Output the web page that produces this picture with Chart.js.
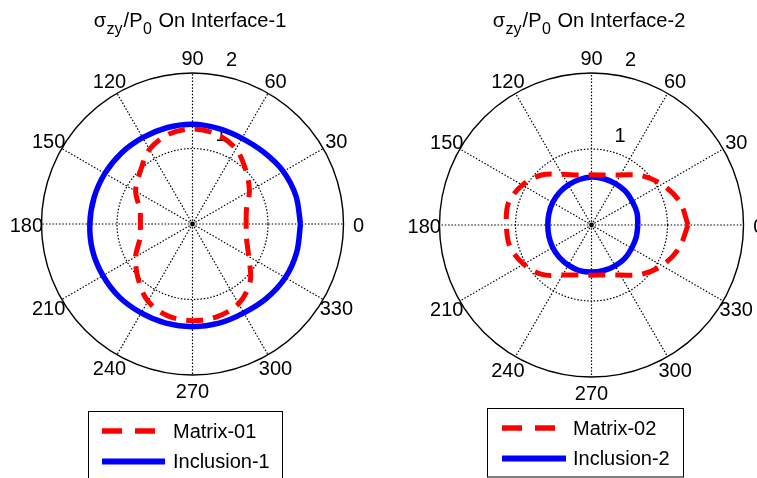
<!DOCTYPE html>
<html>
<head>
<meta charset="utf-8">
<script src="https://cdn.jsdelivr.net/npm/chart.js@4/dist/chart.umd.min.js"></script>
<style>
  html, body { margin: 0; padding: 0; background: #fff; }
  #wrap { position: relative; width: 757px; height: 478px; overflow: hidden; }
  canvas { position: absolute; top: 0; }
</style>
</head>
<body>
<div id="wrap">
  <canvas id="polar1" width="379" height="478" style="left:0"></canvas>
  <canvas id="polar2" width="378" height="478" style="left:379px"></canvas>
</div>
<script>
const angleDeg = [0, 15, 30, 45, 60, 75, 90, 105, 120, 135, 150, 165,
                  180, 195, 210, 225, 240, 255, 270, 285, 300, 315, 330, 345];

// Interface-1, sigma_zy / P0
const matrix01   = [0.71, 0.74, 0.87, 1.00, 1.15, 1.23, 1.26, 1.23, 1.14, 0.98, 0.87, 0.72,
                    0.69, 0.72, 0.87, 1.02, 1.18, 1.26, 1.28, 1.27, 1.22, 1.08, 0.86, 0.74];
const inclusion1 = [1.43, 1.42, 1.39, 1.34, 1.31, 1.31, 1.32, 1.32, 1.32, 1.33, 1.34, 1.35,
                    1.36, 1.37, 1.37, 1.37, 1.36, 1.36, 1.36, 1.36, 1.36, 1.39, 1.42, 1.43];

// Interface-2, sigma_zy / P0
const matrix02   = [1.27, 1.20, 1.07, 0.92, 0.76, 0.68, 0.66, 0.68, 0.77, 0.93, 1.05, 1.13,
                    1.12, 1.11, 1.03, 0.92, 0.76, 0.68, 0.66, 0.68, 0.76, 0.92, 1.07, 1.19];
const inclusion2 = [0.61, 0.62, 0.62, 0.63, 0.63, 0.63, 0.63, 0.62, 0.61, 0.60, 0.59, 0.58,
                    0.575, 0.58, 0.59, 0.60, 0.61, 0.62, 0.62, 0.62, 0.62, 0.62, 0.61, 0.61];

// Axis ticks
const spokeAngles = [0, 30, 60, 90, 120, 150, 180, 210, 240, 270, 300, 330];
const ringValues = [1, 2];
const rMax = 2;

const FONT = "'Liberation Sans', Arial, Helvetica, sans-serif";

function polarToXY(radii) {
  const pts = radii.map((r, i) => {
    const a = angleDeg[i] * Math.PI / 180;
    return { x: r * Math.cos(a), y: r * Math.sin(a) };
  });
  pts.push({ ...pts[0] }); // close the loop
  return pts;
}

// Draws the MATLAB-like polar frame, title and boxed legend
const polarFrame = {
  id: 'polarFrame',
  beforeDatasetsDraw(chart, args, opts) {
    const ctx = chart.ctx;
    const xs = chart.scales.x, ys = chart.scales.y;
    const cx = xs.getPixelForValue(0), cy = ys.getPixelForValue(0);
    const pxPerUnit = xs.getPixelForValue(1) - cx;
    const R = rMax * pxPerUnit;

    ctx.save();
    ctx.strokeStyle = '#000';
    ctx.lineWidth = 1.2;

    // dotted spokes
    ctx.setLineDash([1.5, 1.8]);
    spokeAngles.forEach(deg => {
      const a = deg * Math.PI / 180;
      ctx.beginPath();
      ctx.moveTo(cx, cy);
      ctx.lineTo(cx + R * Math.cos(a), cy - R * Math.sin(a));
      ctx.stroke();
    });

    // dotted inner rings, solid outer ring
    ringValues.forEach(v => {
      ctx.beginPath();
      ctx.setLineDash(v === rMax ? [] : [1.5, 1.8]);
      ctx.lineWidth = v === rMax ? 1.4 : 1.2;
      ctx.arc(cx, cy, v * pxPerUnit, 0, Math.PI * 2);
      ctx.stroke();
    });

    // centre dot
    ctx.setLineDash([]);
    ctx.fillStyle = '#000';
    ctx.beginPath();
    ctx.arc(cx, cy, 2.4, 0, Math.PI * 2);
    ctx.fill();

    // angle labels
    ctx.font = '20px ' + FONT;
    ctx.textAlign = 'center';
    ctx.textBaseline = 'middle';
    spokeAngles.forEach(deg => {
      const a = deg * Math.PI / 180;
      ctx.fillText(String(deg), cx + 1.1 * R * Math.cos(a), cy - 1.1 * R * Math.sin(a) + 2);
    });

    // ring labels at 82 deg
    const a82 = 82 * Math.PI / 180;
    ringValues.forEach(v => {
      const rr = v * pxPerUnit;
      ctx.fillText(String(v), cx + rr * Math.cos(a82) + 18, cy - rr * Math.sin(a82) - 13.5);
    });
    ctx.restore();
  },
  afterDraw(chart, args, opts) {
    const ctx = chart.ctx;
    const cx = chart.scales.x.getPixelForValue(0);
    ctx.save();
    ctx.fillStyle = '#000';
    ctx.textBaseline = 'alphabetic';
    ctx.textAlign = 'left';

    // title with subscripts, laid out piece by piece and centred
    const parts = opts.title;
    let total = 0;
    parts.forEach(p => {
      ctx.font = (p.sub ? '16px ' : '20px ') + FONT;
      p.w = ctx.measureText(p.t).width + (p.sub ? 1.5 : 0);
      total += p.w;
    });
    let x = cx - 2.5 - total / 2;
    parts.forEach(p => {
      ctx.font = (p.sub ? '16px ' : '20px ') + FONT;
      ctx.fillText(p.t, x + (p.sub ? 0.5 : 0), p.sub ? 33.5 : 27);
      x += p.w;
    });

    // legend box
    const lg = opts.legend;
    ctx.strokeStyle = '#000';
    ctx.lineWidth = 1;
    ctx.strokeRect(lg.x, lg.y, lg.w, lg.h);
    ctx.font = '20px ' + FONT;
    ctx.textBaseline = 'middle';
    chart.data.datasets.forEach((ds, i) => {
      const y = lg.rows[i];
      ctx.save();
      ctx.strokeStyle = ds.borderColor;
      ctx.lineWidth = ds.borderWidth + 0.5;
      ctx.setLineDash(ds.borderDash ? [20, 13] : []);
      ctx.beginPath();
      ctx.moveTo(lg.lineX0, y);
      ctx.lineTo(lg.lineX1, y);
      ctx.stroke();
      ctx.restore();
      ctx.fillText(ds.label, lg.textX, y + 1);
    });
    ctx.restore();
  }
};

function makePolar(id, labels, matrixVals, inclusionVals, padding, title, legend) {
  return new Chart(document.getElementById(id), {
    type: 'scatter',
    data: {
      datasets: [{
        label: labels[0],
        data: polarToXY(matrixVals),
        showLine: true,
        borderColor: '#ff0000',
        borderWidth: 5,
        borderDash: [17, 10],
        pointRadius: 0,
        tension: 0.33,
        fill: false
      }, {
        label: labels[1],
        data: polarToXY(inclusionVals),
        showLine: true,
        borderColor: '#0000ff',
        borderWidth: 5.5,
        pointRadius: 0,
        tension: 0.33,
        fill: false
      }]
    },
    options: {
      responsive: false,
      animation: false,
      layout: { padding: padding },
      scales: {
        x: { type: 'linear', min: -rMax, max: rMax, display: false },
        y: { type: 'linear', min: -rMax, max: rMax, display: false }
      },
      plugins: {
        legend: { display: false },
        tooltip: { enabled: false },
        polarFrame: { title: title, legend: legend }
      }
    },
    plugins: [polarFrame]
  });
}

makePolar('polar1', ['Matrix-01', 'Inclusion-1'], matrix01, inclusion1,
  { left: 41.5, right: 35.5, top: 73, bottom: 103 },
  [{ t: 'σ' }, { t: 'zy', sub: true }, { t: '/P' }, { t: '0', sub: true }, { t: ' On Interface-1' }],
  { x: 88.5, y: 411.5, w: 194, h: 70, lineX0: 102, lineX1: 165, textX: 173, rows: [431, 461.5] });

makePolar('polar2', ['Matrix-02', 'Inclusion-2'], matrix02, inclusion2,
  { left: 60.5, right: 13.5, top: 73, bottom: 101 },
  [{ t: 'σ' }, { t: 'zy', sub: true }, { t: '/P' }, { t: '0', sub: true }, { t: ' On Interface-2' }],
  { x: 108.5, y: 408.5, w: 196, h: 68.5, lineX0: 123, lineX1: 187, textX: 194, rows: [428, 458.5] });
</script>
</body>
</html>
